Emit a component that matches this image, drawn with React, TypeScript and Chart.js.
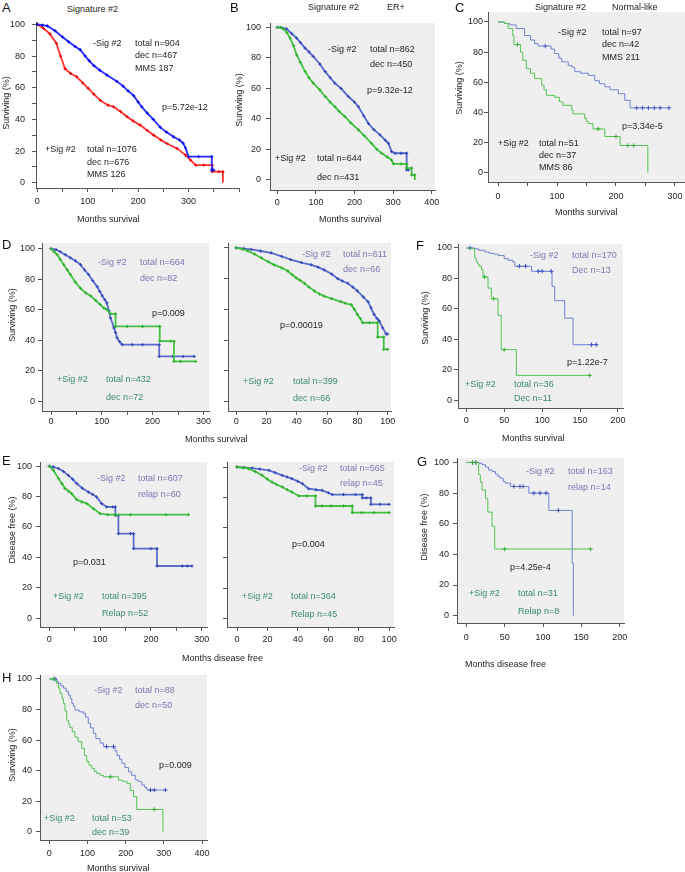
import React, { useEffect, useRef } from 'react';
import { Chart, registerables } from 'chart.js';
Chart.register(...registerables);

// ---------------- DATA ----------------
// Panel A: all, Signature #2
const A_NEG_X = [0, 10, 20, 35, 50, 62, 75, 85, 95, 103, 112, 124, 138, 158, 170, 180, 191, 200, 207, 218, 230, 244, 256, 270, 282, 289, 294, 300, 320, 346, 346, 350];
const A_NEG_Y = [100, 99.5, 99, 96, 92, 89, 86, 84, 80, 77, 74, 71, 68, 64, 61, 58, 55, 51, 48, 44, 40, 35, 32, 29, 27, 25, 22, 16.5, 16.5, 16.5, 8, 8];
const A_POS_X = [0, 12, 25, 38, 46, 55, 66, 78, 90, 101, 112, 125, 140, 151, 165, 178, 190, 204, 218, 231, 245, 257, 277, 294, 304, 314, 330, 347, 347, 360, 368, 368];
const A_POS_Y = [100, 97.5, 94, 88, 80, 72, 69, 67, 63, 59.6, 56, 52, 49, 48, 45, 41.7, 39, 36.4, 33, 30, 27, 24.8, 21.7, 17.5, 14.3, 11.2, 11.2, 11.2, 7, 7, 7, 0];
// Panel B: ER+
const B_NEG_X = [0, 12, 24, 37, 50, 60, 72, 82, 93, 110, 124, 137, 149, 165, 184, 200, 210, 224, 236, 250, 266, 280, 288, 296, 305, 320, 335, 335, 340];
const B_NEG_Y = [100, 99.7, 99, 96, 93, 90, 86.4, 84, 81, 76, 71, 67, 63.5, 60, 54.7, 51, 48, 42, 37, 33, 29.5, 26, 24, 18.6, 17.5, 17.5, 17.5, 6.6, 6.6];
const B_POS_X = [0, 8, 16, 25, 33, 42, 50, 60, 72, 82, 93, 110, 124, 137, 149, 160, 175, 190, 210, 225, 244, 258, 270, 285, 296, 301, 320, 335, 335, 348, 348, 356, 356];
const B_POS_Y = [100, 100, 99, 96.5, 93, 88, 82, 77, 71, 67, 63.5, 59, 54.7, 51, 48, 45, 41.6, 37.5, 32.8, 29, 24, 20, 17.5, 15, 13, 10.5, 10.5, 10.5, 7.7, 7.7, 3.3, 3.3, 0];
// Panel C: Normal-like
const C_NEG_X = [0, 11, 20, 31, 45, 55, 62, 68, 80, 90, 96, 103, 108, 119, 125, 130, 140, 153, 164, 172, 181, 190, 204, 215, 224, 235, 245, 255, 265, 275, 290];
const C_NEG_Y = [100, 99, 98, 95.6, 91, 88, 85.6, 84, 84, 82, 79, 76, 73.5, 71, 70, 67, 66, 64.6, 61, 59, 57, 55, 52.4, 48, 43, 43, 43, 43, 43, 43, 43];
const C_POS_X = [0, 11, 17, 25, 27, 33, 38, 42, 48, 55, 62, 74, 78, 82, 96, 104, 110, 125, 127, 147, 150, 153, 161, 170, 181, 200, 207, 220, 230, 254];
const C_POS_Y = [100, 99, 95.6, 91, 85, 85, 80, 74.5, 69, 66, 62.4, 58, 55, 51.3, 50, 47, 44.7, 41.4, 39, 36, 34, 32.5, 29, 29, 24, 24, 18, 18, 18, 0];
// Panel D (left): survival, months 0-300
const DL_NEG_X = [0, 10, 18, 28, 38, 48, 58, 66, 74, 82, 91, 96, 101, 106, 110, 114, 117, 124, 127, 130, 135, 140, 160, 180, 213, 213, 240, 260, 282];
const DL_NEG_Y = [100, 99.3, 98, 96, 94, 92, 89.5, 86, 83, 79, 75, 72, 69, 66.5, 64.4, 59, 54.6, 48, 45, 41.5, 39, 37, 37, 37, 37, 29.3, 29.3, 29.3, 29.3];
const DL_POS_X = [0, 6, 12, 18, 25, 32, 38, 48, 58, 68, 78, 88, 97, 104, 110, 117, 127, 127, 150, 180, 214, 214, 235, 242, 242, 255, 285];
const DL_POS_Y = [100, 98, 96, 93, 89.5, 86, 83, 78, 74, 71, 69, 66, 63.3, 61, 60, 57.2, 57.2, 49, 49, 49, 49, 39.3, 39.3, 39.3, 26, 26, 26];
// Panel D (right): survival, months 0-100
const DR_NEG_X = [0, 5, 9.9, 16, 23, 30, 36, 43, 49.5, 54, 58, 63, 67, 70, 73.6, 77, 80, 84, 87, 89, 91, 93, 94.5, 96.7, 99, 100];
const DR_NEG_Y = [100, 99.6, 99, 98, 96.8, 94.5, 92.4, 90.5, 89, 87.5, 85.7, 83, 80, 78.5, 77, 74.5, 72, 68, 65, 61, 56.7, 54, 52.4, 48, 44, 44];
const DR_POS_X = [0, 4, 7.7, 12, 16.5, 21, 25, 30, 34, 37, 39.5, 42, 45, 48, 51.6, 55, 58, 63, 69, 72, 76, 78, 80, 82, 83.5, 88, 93.4, 93.4, 97.4, 97.4, 100];
const DR_POS_Y = [100, 99.2, 98, 96, 93.5, 91, 89, 87, 85, 82.5, 80.5, 79, 77, 74.5, 72, 70, 68.6, 67, 65, 64, 63, 60, 56.7, 54, 51.3, 51.3, 51.3, 42, 42, 34, 34];
// Panel F: survival
const F_NEG_X = [0, 5, 11, 16, 24, 30, 36, 42, 50, 55, 61, 64, 70, 78, 86, 95, 100, 112, 113, 116.5, 129.7, 140.7, 165, 171.4];
const F_NEG_Y = [100, 100, 99.5, 98.5, 97.4, 96.5, 96, 95, 93, 92, 91, 88, 88, 88, 84.7, 84.7, 84.7, 84.7, 74.8, 65.4, 54, 36.5, 36.5, 36.5];
const F_POS_X = [0, 6.6, 11, 13, 15, 17, 20, 22, 24, 28.6, 33, 36, 41.8, 46, 50, 66, 162.6];
const F_POS_Y = [100, 99.5, 93.4, 91, 89.5, 88, 85.8, 81, 81, 73.7, 66.7, 66.7, 55.8, 33.3, 33.3, 16.4, 16.4];
// Panel E (left): disease free, months 0-300
const EL_NEG_X = [0, 8, 18, 28, 37.5, 46, 54, 65, 77, 85, 93, 103, 113, 125, 130, 130, 136, 136, 160, 166, 166, 200, 212, 212, 262, 272, 281];
const EL_NEG_Y = [100, 99.5, 98.5, 96.5, 94, 91.5, 88.6, 85.5, 83, 81.5, 79.8, 75.4, 73.2, 73.2, 73.2, 67.7, 67.7, 55.6, 55.6, 55.6, 45.7, 45.7, 45.7, 34.3, 34.3, 34.3, 34.3];
const EL_POS_X = [0, 8, 18, 25, 31, 38, 44, 54, 64, 74, 87, 100, 115, 130, 160, 230, 274];
const EL_POS_Y = [100, 97.4, 91.9, 88.5, 85.3, 83.5, 82, 78, 76.5, 75.4, 72, 68.8, 68.1, 68.1, 68.1, 68.1, 68.1];
// Panel E (right): disease free, months 0-100
const ER_NEG_X = [0, 5, 9.9, 15, 21, 25, 29.7, 33, 36, 40, 43, 47, 52, 56, 60, 62.6, 70, 78, 82.4, 82.4, 85, 88, 88, 94, 100];
const ER_NEG_Y = [100, 99.6, 99.3, 98.6, 97.8, 96.3, 94.5, 93.4, 92.3, 90.5, 89, 85.7, 85, 84.6, 83, 81.8, 81.8, 81.8, 81.8, 79.6, 79.6, 79.6, 75.4, 75.4, 75.4];
const ER_POS_X = [0, 4, 7.7, 12, 16.5, 20, 23, 26, 29.7, 33, 36, 40.6, 46, 51.6, 51.6, 56, 62, 70, 75.8, 75.8, 82, 90, 100];
const ER_POS_Y = [100, 99.5, 98.9, 97, 94.5, 92, 90, 88.5, 86.8, 85, 83.5, 80.9, 80.9, 80.9, 74.3, 74.3, 74.3, 74.3, 74.3, 69.9, 69.9, 69.9, 69.9];
// Panel G: disease free
const G_NEG_X = [0, 8, 12, 16, 20.5, 25, 29, 34, 38, 41, 44, 48, 51, 57.5, 62, 70, 74, 81.5, 88, 96, 104, 107.6, 120, 138, 139.5];
const G_NEG_Y = [100, 100, 100, 99.5, 98.5, 97, 95, 94, 92.4, 91, 89.8, 87.5, 86.5, 84.3, 84.3, 84.3, 84.3, 80, 80, 80, 80, 68.7, 68.7, 34.3, 0];
const G_POS_X = [0, 8, 12.6, 16, 18.3, 20.5, 25, 28, 33.5, 37, 50, 162];
const G_POS_Y = [100, 100, 100, 92, 87.2, 82, 76.3, 67.6, 58.3, 43.5, 43.5, 43.5];
// Panel H: survival
const H_NEG_X = [0, 15, 19, 23.6, 30, 37, 44, 50, 55, 59, 63, 67, 78, 89, 95, 102, 108, 115.5, 122, 133, 142, 150, 168, 172, 177, 184, 190, 198, 207.6, 215, 225, 232, 242, 250, 255.6, 265, 275, 304];
const H_NEG_Y = [100, 100, 98.5, 97.2, 95.5, 94, 92, 89.5, 87, 84, 82, 79.7, 78.5, 77.5, 75, 71, 68, 64.4, 61, 58, 55.7, 55.7, 55.7, 53, 50, 47.5, 44.8, 42, 39.3, 37, 34, 33, 30.6, 29, 27.3, 27.3, 27.3, 27.3];
const H_POS_X = [0, 10.5, 15, 19, 24, 28, 33, 37, 41, 45.5, 50, 54, 60, 67, 75, 85, 92, 98, 104, 111, 118, 124, 133, 142, 160, 181, 192, 203, 212, 220.6, 229, 275, 297.6];
const H_POS_Y = [100, 100, 99, 97.2, 94, 90.6, 87, 84, 79, 73, 70.5, 68.3, 65.5, 62, 59, 54.6, 50, 45.9, 43.5, 41.5, 39.5, 38.2, 37, 36, 36, 33.8, 33, 31.7, 27, 23, 14.6, 14.6, 0];

// Tick arrays
const X_TICKS_400_50 = [0, 50, 100, 150, 200, 250, 300, 350, 400];
const X_LABELS_0_300 = [0, 100, 200, 300];
const X_TICKS_400 = [0, 100, 200, 300, 400];
const X_TICKS_300_50 = [0, 50, 100, 150, 200, 250, 300];
const X_TICKS_100 = [0, 20, 40, 60, 80, 100];
const X_TICKS_200 = [0, 50, 100, 150, 200];
const Y_TICKS_10 = [0, 10, 20, 30, 40, 50, 60, 70, 80, 90, 100];
const Y_TICKS_20 = [0, 20, 40, 60, 80, 100];

// ---------------- STYLE ----------------
const FONT = '"Liberation Sans", Arial, Helvetica, sans-serif';
const AXIS = '#555555';
const DARK = '#1e1e1e';
const PURP = '#7a78b4';
const TEAL = '#3a8c6c';
const GRAY_BG = '#efefef';

type Series = { xs: number[]; ys: number[]; color: string; mark: string; width: number; radius: number; dense: boolean };
type Panel = {
  key: string; L: number; T: number; R: number; B: number;
  xMin: number; xMax: number; yMin: number; yMax: number;
  xTicks: number[]; xLabels: number[]; yTicks: number[]; yLabels: number[];
  xPad: number; yPad: number; bg: string | null; series: Series[];
};

// dense cohorts: many tiny steps -> drawn as a polyline through read points (explicit drops included)
const dense = (xs: number[], ys: number[], color: string, mark: string): Series => ({ xs, ys, color, mark, width: 1.8, radius: 1.6, dense: true });
// sparse cohorts: true Kaplan-Meier steps
const sparse = (xs: number[], ys: number[], color: string, mark: string): Series => ({ xs, ys, color, mark, width: 1, radius: 2.2, dense: false });

const PANELS: Panel[] = [
  { key: 'A', L: 36, T: 22, R: 238.5, B: 188, xMin: -2.6, xMax: 400, yMin: -3.3, yMax: 101.5,
    xTicks: X_TICKS_400_50, xLabels: X_LABELS_0_300, yTicks: Y_TICKS_10, yLabels: Y_TICKS_20, xPad: 4, yPad: 7, bg: null,
    series: [dense(A_NEG_X, A_NEG_Y, '#2a2aff', '#0000e6'), dense(A_POS_X, A_POS_Y, '#ff3030', '#e60000')] },
  { key: 'B', L: 270, T: 23.3, R: 435, B: 190, xMin: -19, xMax: 408.5, yMin: -6.6, yMax: 102.9,
    xTicks: X_TICKS_400, xLabels: X_TICKS_400, yTicks: Y_TICKS_20, yLabels: Y_TICKS_20, xPad: 3, yPad: 5, bg: GRAY_BG,
    series: [dense(B_POS_X, B_POS_Y, '#45c045', '#2fae2f'), dense(B_NEG_X, B_NEG_Y, '#5568c8', '#3247b4')] },
  { key: 'C', L: 488.3, T: 11.7, R: 686, B: 181.7, xMin: -17, xMax: 318.7, yMin: -6.2, yMax: 106.6,
    xTicks: X_TICKS_300_50, xLabels: X_LABELS_0_300, yTicks: Y_TICKS_20, yLabels: Y_TICKS_20, xPad: 5, yPad: 1, bg: GRAY_BG,
    series: [sparse(C_POS_X, C_POS_Y, '#55c455', '#3bb03b'), sparse(C_NEG_X, C_NEG_Y, '#7084d2', '#4a5fc4')] },
  { key: 'DL', L: 41.7, T: 243.3, R: 208.3, B: 411.7, xMin: -17.8, xMax: 311, yMin: -6.5, yMax: 103.7,
    xTicks: X_TICKS_300_50, xLabels: X_LABELS_0_300, yTicks: Y_TICKS_20, yLabels: Y_TICKS_20, xPad: 1, yPad: 3, bg: GRAY_BG,
    series: [dense(DL_POS_X, DL_POS_Y, '#45c045', '#2fae2f'), dense(DL_NEG_X, DL_NEG_Y, '#5a6dcc', '#3247b4')] },
  { key: 'DR', L: 228.3, T: 243.3, R: 391.7, B: 411.7, xMin: -5.5, xMax: 102.2, yMin: -6.1, yMax: 103.2,
    xTicks: X_TICKS_100, xLabels: X_TICKS_100, yTicks: Y_TICKS_20, yLabels: [], xPad: 1, yPad: 3, bg: GRAY_BG,
    series: [dense(DR_POS_X, DR_POS_Y, '#45c045', '#2fae2f'), dense(DR_NEG_X, DR_NEG_Y, '#5a6dcc', '#3247b4')] },
  { key: 'F', L: 458.3, T: 244.3, R: 623.3, B: 408.3, xMin: -11, xMax: 206.6, yMin: -5, yMax: 102.6,
    xTicks: X_TICKS_200, xLabels: X_TICKS_200, yTicks: Y_TICKS_20, yLabels: Y_TICKS_20, xPad: 3, yPad: 2, bg: GRAY_BG,
    series: [sparse(F_POS_X, F_POS_Y, '#55c455', '#3bb03b'), sparse(F_NEG_X, F_NEG_Y, '#6f82d0', '#3d52bd')] },
  { key: 'EL', L: 40, T: 461.7, R: 206.7, B: 626.7, xMin: -18.4, xMax: 310.5, yMin: -5.9, yMax: 102.8,
    xTicks: X_TICKS_300_50, xLabels: X_LABELS_0_300, yTicks: Y_TICKS_20, yLabels: Y_TICKS_20, xPad: 3, yPad: 4, bg: GRAY_BG,
    series: [dense(EL_POS_X, EL_POS_Y, '#45c045', '#2fae2f'), dense(EL_NEG_X, EL_NEG_Y, '#5a6dcc', '#3247b4')] },
  { key: 'ER', L: 226.7, T: 461.7, R: 393.3, B: 626.7, xMin: -6.6, xMax: 103.2, yMin: -5.5, yMax: 103.3,
    xTicks: X_TICKS_100, xLabels: X_TICKS_100, yTicks: Y_TICKS_20, yLabels: [], xPad: 3, yPad: 4, bg: GRAY_BG,
    series: [dense(ER_POS_X, ER_POS_Y, '#45c045', '#2fae2f'), dense(ER_NEG_X, ER_NEG_Y, '#5a6dcc', '#3247b4')] },
  { key: 'G', L: 456.7, T: 458.3, R: 623.3, B: 623.3, xMin: -12.2, xMax: 205.6, yMin: -4.8, yMax: 102.9,
    xTicks: X_TICKS_200, xLabels: X_TICKS_200, yTicks: Y_TICKS_20, yLabels: Y_TICKS_20, xPad: 5, yPad: 4, bg: GRAY_BG,
    series: [sparse(G_POS_X, G_POS_Y, '#55c455', '#3bb03b'), sparse(G_NEG_X, G_NEG_Y, '#6f82d0', '#3d52bd')] },
  { key: 'H', L: 40, T: 675, R: 206.7, B: 840, xMin: -24.4, xMax: 413, yMin: -5.4, yMax: 102.6,
    xTicks: X_TICKS_400, xLabels: X_TICKS_400, yTicks: Y_TICKS_20, yLabels: Y_TICKS_20, xPad: 4, yPad: 4, bg: GRAY_BG,
    series: [sparse(H_POS_X, H_POS_Y, '#55c455', '#3bb03b'), sparse(H_NEG_X, H_NEG_Y, '#6f82d0', '#3d52bd')] },
];

// Texts: [left, centerY, text, color]
type Txt = [number, number, string, string];
const TEXTS: Txt[] = [
  // A
  [67, 9, 'Signature #2', DARK],
  [93, 43, '-Sig #2', DARK], [135, 43, 'total n=904', DARK], [135, 55, 'dec n=467', DARK], [135, 68, 'MMS 187', DARK],
  [162, 107, 'p=5.72e-12', DARK],
  [45, 149, '+Sig #2', DARK], [87, 149, 'total n=1076', DARK], [87, 162, 'dec n=676', DARK], [87, 174, 'MMS 126', DARK],
  [77, 219, 'Months survival', DARK],
  // B
  [308, 7, 'Signature #2', DARK], [387, 7, 'ER+', DARK],
  [328, 49, '-Sig #2', DARK], [370, 49, 'total n=862', DARK], [370, 64, 'dec n=450', DARK],
  [367, 90, 'p=9.32e-12', DARK],
  [275, 158, '+Sig #2', DARK], [317, 158, 'total n=644', DARK], [317, 177, 'dec n=431', DARK],
  [319, 219, 'Months survival', DARK],
  // C
  [535, 7, 'Signature #2', DARK], [612, 7, 'Normal-like', DARK],
  [558, 32, '-Sig #2', DARK], [602, 32, 'total n=97', DARK], [602, 44, 'dec n=42', DARK], [602, 57, 'MMS 211', DARK],
  [622, 126, 'p=3.34e-5', DARK],
  [498, 143, '+Sig #2', DARK], [539, 143, 'total n=51', DARK], [539, 155, 'dec n=37', DARK], [539, 167, 'MMS 86', DARK],
  [555, 212, 'Months survival', DARK],
  // D
  [98, 262, '-Sig #2', PURP], [140, 262, 'total n=664', PURP], [140, 278, 'dec n=82', PURP],
  [152, 313, 'p=0.009', DARK],
  [57, 379, '+Sig #2', TEAL], [106, 379, 'total n=432', TEAL], [106, 397, 'dec n=72', TEAL],
  [302, 254, '-Sig #2', PURP], [343, 254, 'total n=611', PURP], [343, 269, 'dec n=66', PURP],
  [280, 325, 'p=0.00019', DARK],
  [243, 381, '+Sig #2', TEAL], [293, 381, 'total n=399', TEAL], [293, 398, 'dec n=66', TEAL],
  [185, 439, 'Months survival', DARK],
  // F
  [530, 255, '-Sig #2', PURP], [572, 255, 'total n=170', PURP], [572, 270, 'Dec n=13', PURP],
  [567, 362, 'p=1.22e-7', DARK],
  [465, 384, '+Sig #2', TEAL], [514, 384, 'total n=36', TEAL], [514, 398, 'Dec n=11', TEAL],
  [502, 438, 'Months survival', DARK],
  // E
  [97, 478, '-Sig #2', PURP], [138, 478, 'total n=607', PURP], [138, 494, 'relap n=60', PURP],
  [73, 562, 'p=0.031', DARK],
  [53, 596, '+Sig #2', TEAL], [102, 596, 'total n=395', TEAL], [102, 613, 'Relap n=52', TEAL],
  [299, 468, '-Sig #2', PURP], [340, 468, 'total n=565', PURP], [340, 483, 'relap n=45', PURP],
  [292, 544, 'p=0.004', DARK],
  [242, 596, '+Sig #2', TEAL], [291, 596, 'total n=364', TEAL], [291, 614, 'Relap n=45', TEAL],
  [182, 658, 'Months disease free', DARK],
  // G
  [526, 471, '-Sig #2', PURP], [568, 471, 'total n=163', PURP], [568, 487, 'relap n=14', PURP],
  [510, 567, 'p=4.25e-4', DARK],
  [469, 593, '+Sig #2', TEAL], [518, 593, 'total n=31', TEAL], [518, 611, 'Relap n=8', TEAL],
  [465, 664, 'Months disease free', DARK],
  // H
  [94, 690, '-Sig #2', PURP], [135, 690, 'total n=88', PURP], [135, 705, 'dec n=50', PURP],
  [159, 765, 'p=0.009', DARK],
  [44, 818, '+Sig #2', TEAL], [92, 818, 'total n=53', TEAL], [92, 832, 'dec n=39', TEAL],
  [87, 868, 'Months survival', DARK],
];

// Panel letters [left, top, letter]
const LETTERS: [number, number, string][] = [
  [2, 1, 'A'], [230, 1, 'B'], [455, 1, 'C'], [2, 238, 'D'], [416, 239, 'F'],
  [2, 454, 'E'], [417, 455, 'G'], [2, 671, 'H'],
];

// Rotated y titles [centerX, centerY, text]
const YTITLES: [number, number, string][] = [
  [6, 103, 'Surviving (%)'], [239, 100, 'Surviving (%)'], [459, 88, 'Surviving (%)'],
  [12, 315, 'Surviving (%)'], [425, 318, 'Surviving (%)'],
  [12, 530, 'Disease free (%)'], [424, 527, 'Disease free (%)'], [12, 755, 'Surviving (%)'],
];

const WY = 34;
const HX = 24;
const PT = 6;
const PR = 14;

function KMChart({ p }: { p: Panel }) {
  const ref = useRef<HTMLCanvasElement>(null);
  const width = Math.round(WY + (p.R - p.L) + PR);
  const height = Math.round(PT + (p.B - p.T) + HX);
  const left = p.L - WY;
  const top = p.T - PT;
  useEffect(() => {
    const bgPlugin = {
      id: 'bgfill',
      beforeDraw(chart: any) {
        if (!p.bg) return;
        const { ctx, chartArea: a } = chart;
        ctx.save();
        ctx.fillStyle = p.bg;
        ctx.fillRect(a.left, a.top, a.right - a.left, a.bottom - a.top);
        ctx.restore();
      },
    };
    const font = { family: FONT, size: 9 };
    const chart = new Chart(ref.current as HTMLCanvasElement, {
      type: 'line',
      data: {
        datasets: p.series.map((s) => ({
          data: s.xs.map((x, i) => ({ x, y: s.ys[i] })),
          borderColor: s.color,
          backgroundColor: s.mark,
          borderWidth: s.width,
          stepped: !s.dense,
          tension: 0,
          fill: false,
          pointStyle: 'cross',
          pointRadius: s.ys.map((y, i) => (y <= 0 ? 0 : s.dense || (i > 0 && y === s.ys[i - 1]) ? s.radius : 0)),
          pointBorderColor: s.mark,
          pointBorderWidth: 1,
        })),
      },
      options: {
        responsive: false,
        animation: false,
        events: [],
        layout: { padding: { top: PT, right: PR, left: 0, bottom: 0 } },
        plugins: { legend: { display: false }, tooltip: { enabled: false } },
        scales: {
          x: {
            type: 'linear',
            min: p.xMin,
            max: p.xMax,
            afterBuildTicks: (s: any) => { s.ticks = p.xTicks.map((v) => ({ value: v })); },
            afterFit: (s: any) => { s.height = HX; s.paddingLeft = 0; s.paddingRight = 0; },
            ticks: {
              autoSkip: false, maxRotation: 0, padding: p.xPad, color: DARK, font,
              callback: (v: any) => (p.xLabels.includes(Number(v)) ? String(v) : ''),
            },
            grid: { drawOnChartArea: false, drawTicks: true, tickLength: 4, color: AXIS },
            border: { display: true, color: AXIS, width: 1 },
          },
          y: {
            type: 'linear',
            min: p.yMin,
            max: p.yMax,
            afterBuildTicks: (s: any) => { s.ticks = p.yTicks.map((v) => ({ value: v })); },
            afterFit: (s: any) => { s.width = WY; s.paddingTop = 0; s.paddingBottom = 0; },
            ticks: {
              autoSkip: false, padding: p.yPad, color: DARK, font,
              callback: (v: any) => (p.yLabels.includes(Number(v)) ? String(v) : ''),
            },
            grid: { drawOnChartArea: false, drawTicks: true, tickLength: 4, color: AXIS },
            border: { display: true, color: AXIS, width: 1 },
          },
        },
      },
      plugins: [bgPlugin],
    } as any);
    return () => chart.destroy();
  }, [p]);
  return (
    <canvas
      ref={ref}
      width={width}
      height={height}
      style={{ position: 'absolute', left, top, width, height }}
    />
  );
}

export default function App() {
  return (
    <div style={{ position: 'absolute', left: 0, top: 0, width: 685, height: 872, overflow: 'hidden', background: '#ffffff', fontFamily: FONT }}>
      {PANELS.map((p) => <KMChart key={p.key} p={p} />)}
      {TEXTS.map(([x, y, t, c], i) => (
        <div key={'t' + i} style={{ position: 'absolute', left: x, top: y - 5, fontSize: 9, lineHeight: '10px', color: c, whiteSpace: 'nowrap' }}>{t}</div>
      ))}
      {LETTERS.map(([x, y, t]) => (
        <div key={'l' + t} style={{ position: 'absolute', left: x, top: y, fontSize: 13, lineHeight: '13px', color: '#111', whiteSpace: 'nowrap' }}>{t}</div>
      ))}
      {YTITLES.map(([x, y, t], i) => (
        <div key={'y' + i} style={{ position: 'absolute', left: x, top: y, fontSize: 9, lineHeight: '10px', color: DARK, whiteSpace: 'nowrap', transform: 'translate(-50%, -50%) rotate(-90deg)' }}>{t}</div>
      ))}
    </div>
  );
}
